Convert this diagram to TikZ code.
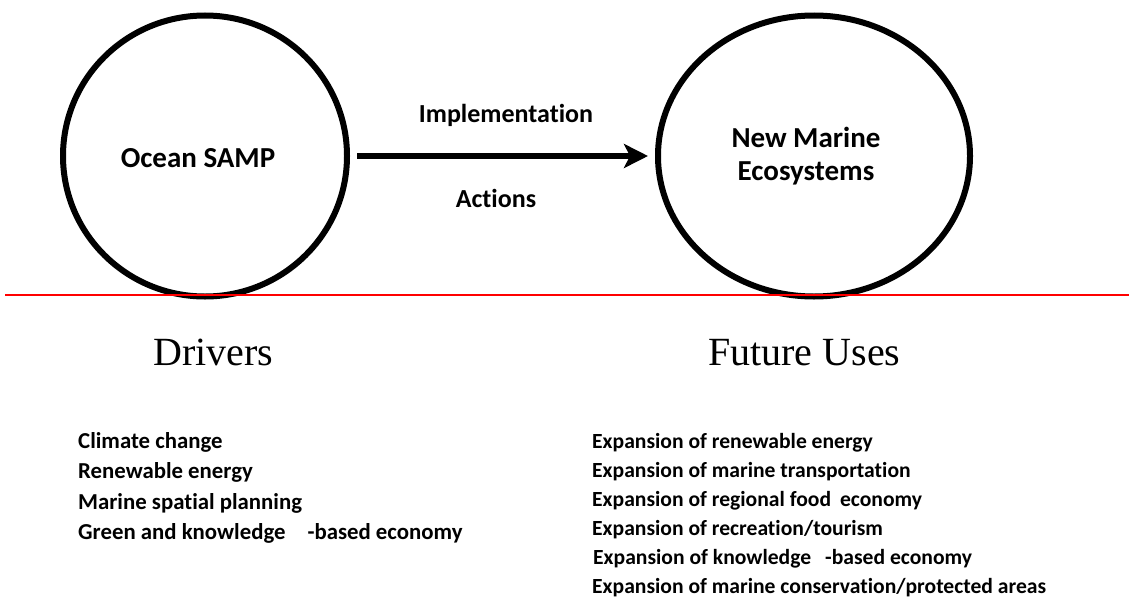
\documentclass[tikz,border=0pt]{standalone}
\usepackage{fontspec}
\setmainfont{Carlito}[Ligatures=NoCommon]
\newfontfamily\headfont{Liberation Serif}
\usetikzlibrary{shapes.geometric,arrows.meta}
\tikzset{
  ring/.style={draw=black, line width=6pt, ellipse, inner sep=0pt},
  ringlabel/.style={font=\bfseries\fontsize{29}{32}\selectfont, align=center, inner sep=0pt},
  arrlabel/.style={font=\bfseries\fontsize{26}{30}\selectfont, inner sep=0pt, anchor=base},
  heading/.style={font=\headfont\fontsize{40}{44}\selectfont, inner sep=0pt, anchor=base west},
  item/.style={font=\bfseries\fontsize{22.8}{26}\selectfont, inner sep=0pt, anchor=base west},
  itemr/.style={font=\bfseries\fontsize{21.6}{26}\selectfont, inner sep=0pt, anchor=base west},
  flow/.style={line width=6pt, -{Stealth[length=24pt,width=24pt,inset=6pt]}}
}
\begin{document}
\begin{tikzpicture}[x=1pt,y=-1pt]
\useasboundingbox[fill=white] (0,0) rectangle (1129,597);
\node[ring, minimum width=284pt, minimum height=281pt] (oc) at (205,156) {};
\node[ring, minimum width=312pt, minimum height=281pt] (nme) at (814,156) {};
\node[ringlabel, anchor=base] (octxt) at (198,167) {Ocean SAMP};
\node[ringlabel, anchor=base] (nmetxt1) at (806,147) {New Marine};
\node[ringlabel, anchor=base] (nmetxt2) at (806,180) {Ecosystems};
\draw[flow, shorten <=7pt, shorten >=7pt] (oc.east) -- (nme.west);
\node[arrlabel] (impl) at (506,122) {Implementation};
\node[arrlabel] (act) at (496,207) {Actions};
\draw[red, line width=2pt] (5,295) -- (1129,295);
\node[heading] (drv) at (153,365) {Drivers};
\node[heading] (fut) at (708,365) {Future Uses};
\node[item] (d1) at (78,448) {Climate change};
\node[item] (d2) at (78,478) {Renewable energy};
\node[item] (d3) at (78,509) {Marine spatial planning};
\node[item] (d4) at (78,539) {Green and knowledge\hspace{22pt}-based economy};
\node[itemr] (f1) at (592,448) {Expansion of renewable energy};
\node[itemr] (f2) at (592,477) {Expansion of marine transportation};
\node[itemr] (f3) at (592,506) {Expansion of regional food\hspace{4pt} economy};
\node[itemr] (f4) at (592,535) {Expansion of recreation/tourism};
\node[itemr] (f5) at (593,564) {Expansion of knowledge\hspace{14pt}-based economy};
\node[itemr] (f6) at (592,593) {Expansion of marine conservation/protected areas};
\end{tikzpicture}
\end{document}
